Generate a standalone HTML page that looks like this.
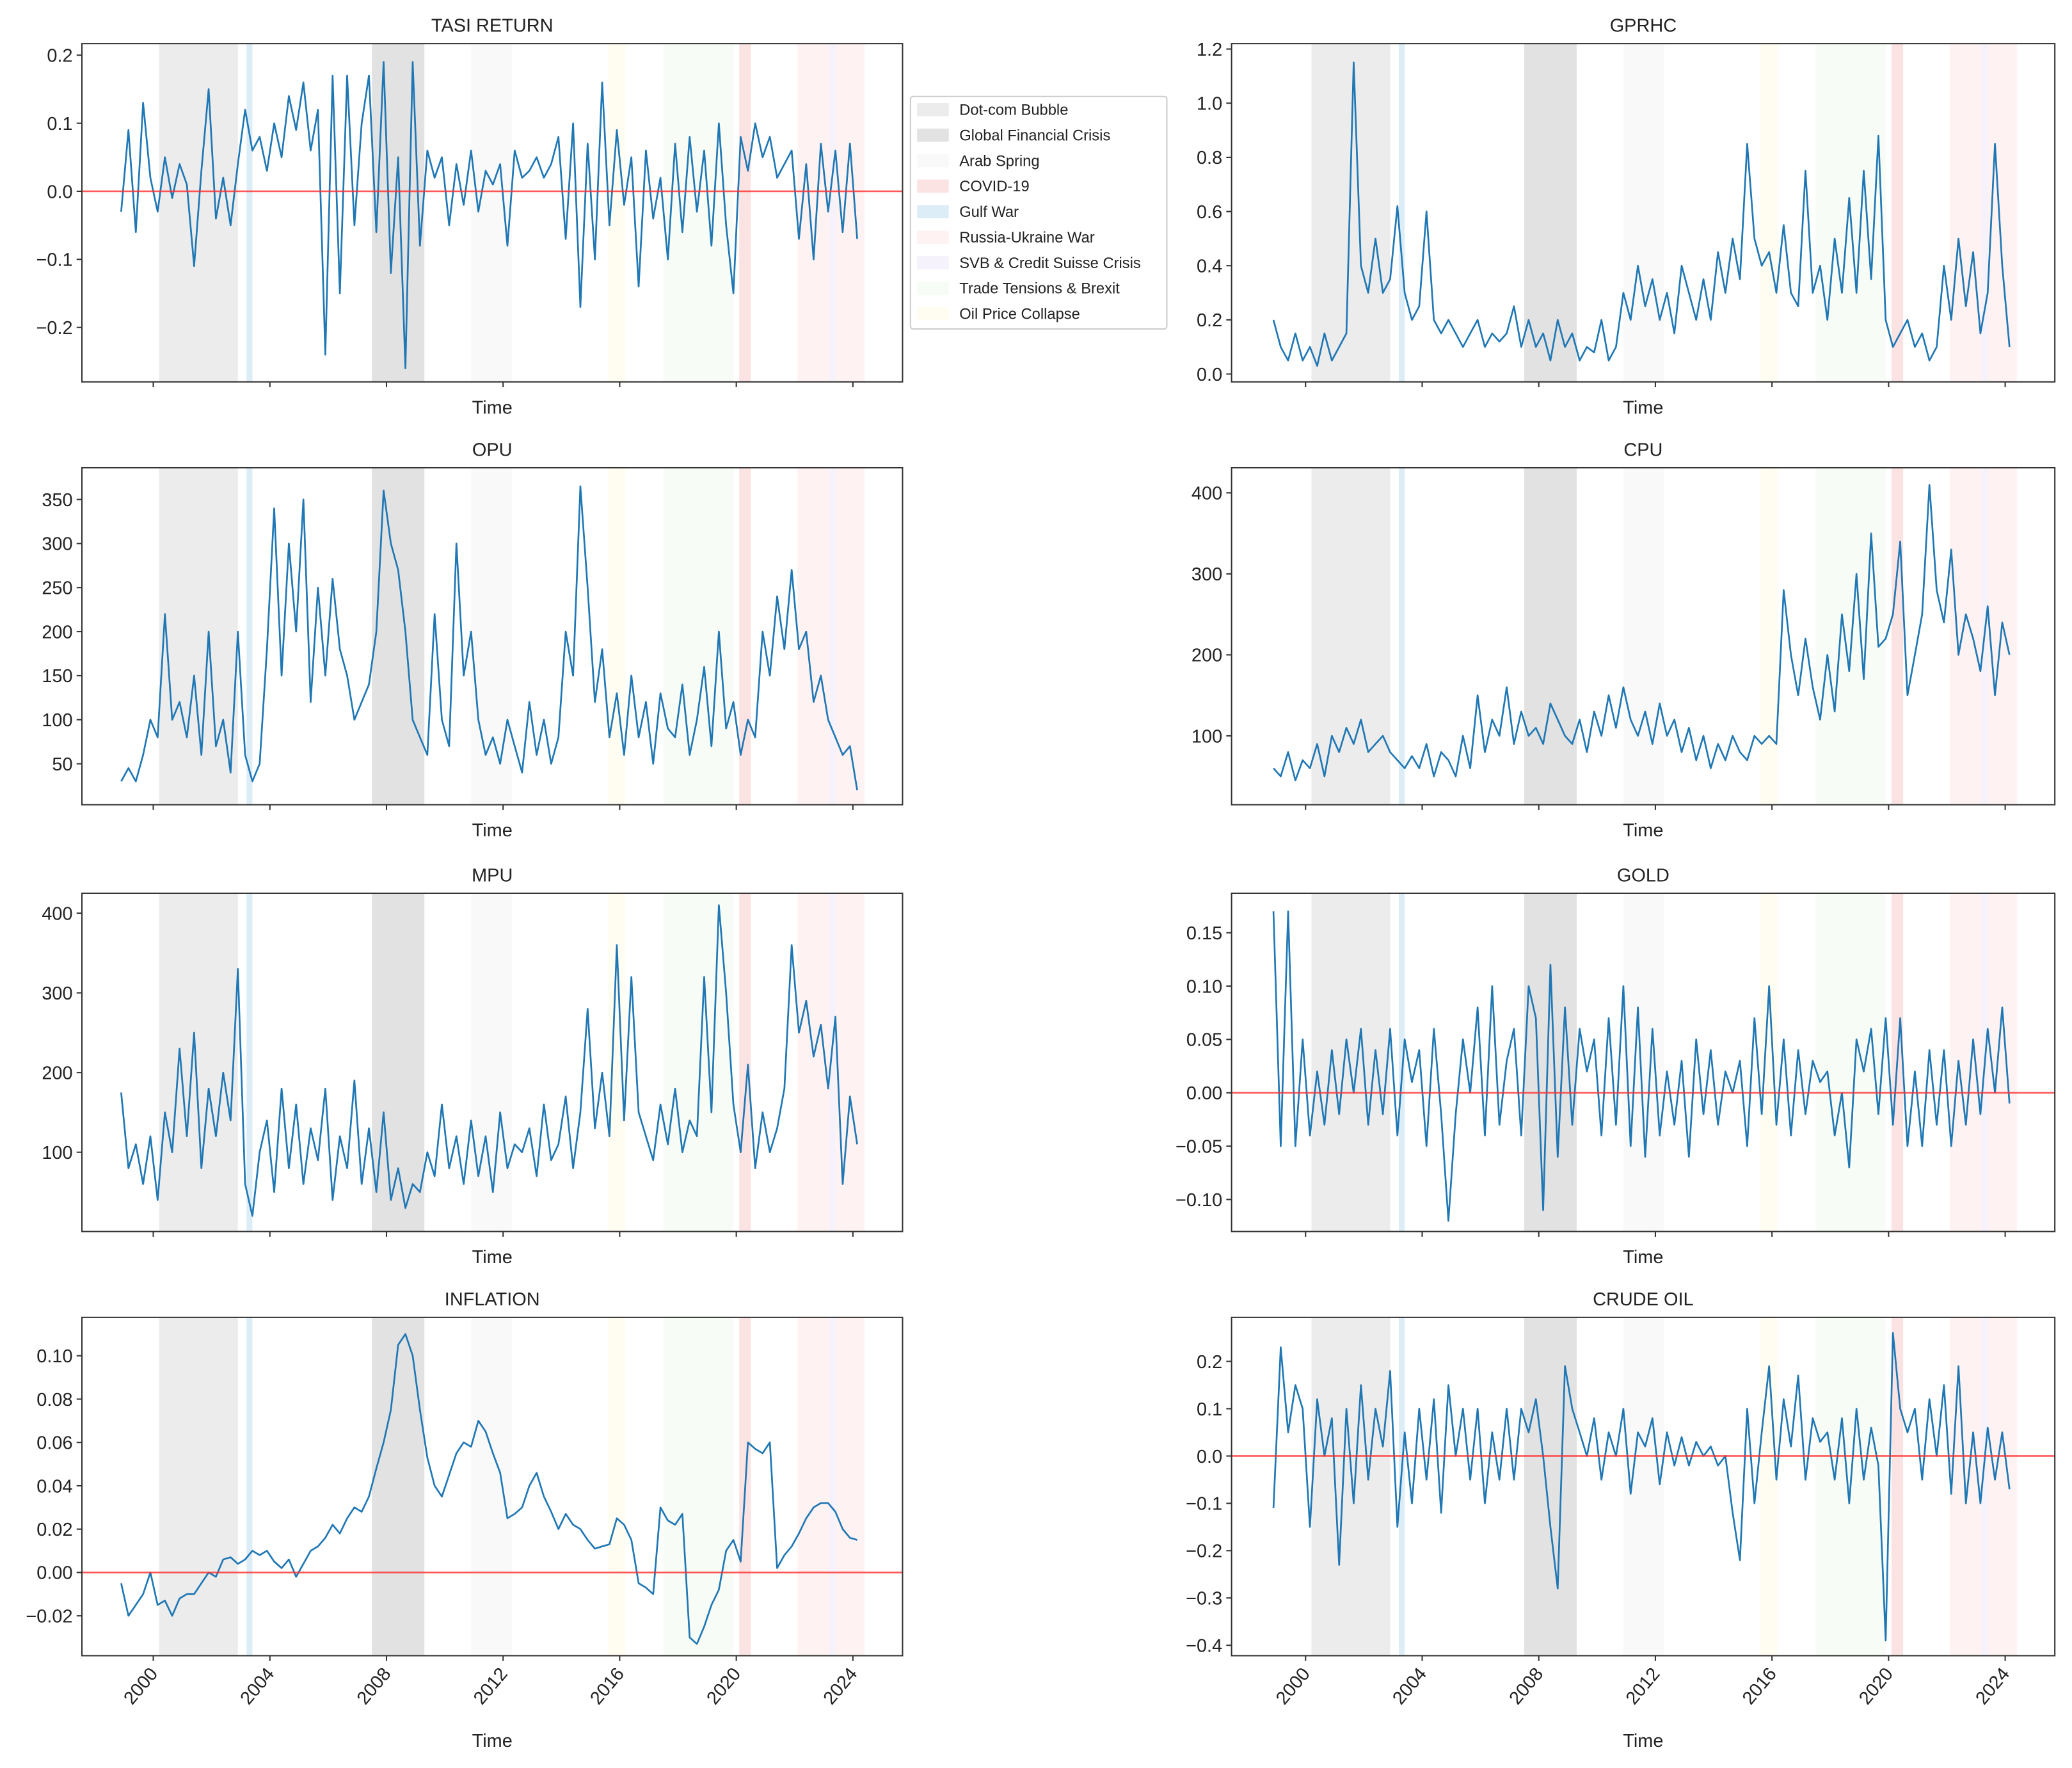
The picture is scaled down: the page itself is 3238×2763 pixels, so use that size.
<!DOCTYPE html>
<html><head><meta charset="utf-8"><title>Uncertainty panels</title>
<style>html,body{margin:0;padding:0;background:#fff}svg{display:block}text{font-family:"Liberation Sans",sans-serif;fill:#222}</style>
</head><body>
<svg id="chart" xmlns="http://www.w3.org/2000/svg" width="3238" height="2763" viewBox="0 0 1568 1338" preserveAspectRatio="none"></svg>
<script>
const startYear = 1998.9, stepYear = 0.25;
const xTicks = [2000, 2004, 2008, 2012, 2016, 2020, 2024];
const tasi = [-0.03,0.09,-0.06,0.13, 0.02,-0.03,0.05,-0.01, 0.04,0.01,-0.11,0.03, 0.15,-0.04,0.02,-0.05, 0.04,0.12,0.06,0.08, 0.03,0.10,0.05,0.14, 0.09,0.16,0.06,0.12, -0.24,0.17,-0.15,0.17, -0.05,0.10,0.17,-0.06, 0.19,-0.12,0.05,-0.26, 0.19,-0.08,0.06,0.02, 0.05,-0.05,0.04,-0.02, 0.06,-0.03,0.03,0.01, 0.04,-0.08,0.06,0.02, 0.03,0.05,0.02,0.04, 0.08,-0.07,0.10,-0.17, 0.07,-0.10,0.16,-0.05, 0.09,-0.02,0.05,-0.14, 0.06,-0.04,0.02,-0.10, 0.07,-0.06,0.08,-0.03, 0.06,-0.08,0.10,-0.05, -0.15,0.08,0.03,0.10, 0.05,0.08,0.02,0.04, 0.06,-0.07,0.04,-0.10, 0.07,-0.03,0.06,-0.06, 0.07,-0.07];
const gprhc = [0.2,0.1,0.05,0.15, 0.05,0.1,0.03,0.15, 0.05,0.1,0.15,1.15, 0.4,0.3,0.5,0.3, 0.35,0.62,0.3,0.2, 0.25,0.6,0.2,0.15, 0.2,0.15,0.1,0.15, 0.2,0.1,0.15,0.12, 0.15,0.25,0.1,0.2, 0.1,0.15,0.05,0.2, 0.1,0.15,0.05,0.1, 0.08,0.2,0.05,0.1, 0.3,0.2,0.4,0.25, 0.35,0.2,0.3,0.15, 0.4,0.3,0.2,0.35, 0.2,0.45,0.3,0.5, 0.35,0.85,0.5,0.4, 0.45,0.3,0.55,0.3, 0.25,0.75,0.3,0.4, 0.2,0.5,0.3,0.65, 0.3,0.75,0.35,0.88, 0.2,0.1,0.15,0.2, 0.1,0.15,0.05,0.1, 0.4,0.2,0.5,0.25, 0.45,0.15,0.3,0.85, 0.4,0.1];
const opu = [30,45,30,60, 100,80,220,100, 120,80,150,60, 200,70,100,40, 200,60,30,50, 180,340,150,300, 200,350,120,250, 150,260,180,150, 100,120,140,200, 360,300,270,200, 100,80,60,220, 100,70,300,150, 200,100,60,80, 50,100,70,40, 120,60,100,50, 80,200,150,365, 250,120,180,80, 130,60,150,80, 120,50,130,90, 80,140,60,100, 160,70,200,90, 120,60,100,80, 200,150,240,180, 270,180,200,120, 150,100,80,60, 70,20];
const cpu = [60,50,80,45, 70,60,90,50, 100,80,110,90, 120,80,90,100, 80,70,60,75, 60,90,50,80, 70,50,100,60, 150,80,120,100, 160,90,130,100, 110,90,140,120, 100,90,120,80, 130,100,150,110, 160,120,100,130, 90,140,100,120, 80,110,70,100, 60,90,70,100, 80,70,100,90, 100,90,280,200, 150,220,160,120, 200,130,250,180, 300,170,350,210, 220,250,340,150, 200,250,410,280, 240,330,200,250, 220,180,260,150, 240,200];
const mpu = [175,80,110,60, 120,40,150,100, 230,120,250,80, 180,120,200,140, 330,60,20,100, 140,50,180,80, 160,60,130,90, 180,40,120,80, 190,60,130,50, 150,40,80,30, 60,50,100,70, 160,80,120,60, 140,70,120,50, 150,80,110,100, 130,70,160,90, 110,170,80,150, 280,130,200,120, 360,140,320,150, 120,90,160,110, 180,100,140,120, 320,150,410,300, 160,100,210,80, 150,100,130,180, 360,250,290,220, 260,180,270,60, 170,110];
const gold = [0.17,-0.05,0.17,-0.05, 0.05,-0.04,0.02,-0.03, 0.04,-0.02,0.05,0.00, 0.06,-0.03,0.04,-0.02, 0.06,-0.04,0.05,0.01, 0.04,-0.05,0.06,-0.02, -0.12,-0.02,0.05,0.00, 0.08,-0.04,0.10,-0.03, 0.03,0.06,-0.04,0.10, 0.07,-0.11,0.12,-0.06, 0.08,-0.03,0.06,0.02, 0.05,-0.04,0.07,-0.03, 0.10,-0.05,0.08,-0.06, 0.06,-0.04,0.02,-0.03, 0.03,-0.06,0.05,-0.02, 0.04,-0.03,0.02,0.00, 0.03,-0.05,0.07,-0.02, 0.10,-0.03,0.05,-0.04, 0.04,-0.02,0.03,0.01, 0.02,-0.04,0.00,-0.07, 0.05,0.02,0.06,-0.02, 0.07,-0.03,0.07,-0.05, 0.02,-0.05,0.04,-0.03, 0.04,-0.05,0.03,-0.03, 0.05,-0.02,0.06,0.00, 0.08,-0.01];
const inflation = [-0.005,-0.02,-0.015,-0.01, 0.0,-0.015,-0.013,-0.02, -0.012,-0.01,-0.01,-0.005, 0.0,-0.002,0.006,0.007, 0.004,0.006,0.01,0.008, 0.01,0.005,0.002,0.006, -0.002,0.004,0.01,0.012, 0.016,0.022,0.018,0.025, 0.03,0.028,0.035,0.048, 0.06,0.075,0.105,0.11, 0.1,0.075,0.053,0.04, 0.035,0.045,0.055,0.06, 0.058,0.07,0.065,0.055, 0.046,0.025,0.027,0.03, 0.04,0.046,0.035,0.028, 0.02,0.027,0.022,0.02, 0.015,0.011,0.012,0.013, 0.025,0.022,0.015,-0.005, -0.007,-0.01,0.03,0.024, 0.022,0.027,-0.03,-0.033, -0.025,-0.015,-0.008,0.01, 0.015,0.005,0.06,0.057, 0.055,0.06,0.002,0.008, 0.012,0.018,0.025,0.03, 0.032,0.032,0.028,0.02, 0.016,0.015];
const crude = [-0.11,0.23,0.05,0.15, 0.1,-0.15,0.12,0.0, 0.08,-0.23,0.1,-0.1, 0.15,-0.05,0.1,0.02, 0.18,-0.15,0.05,-0.1, 0.1,-0.05,0.12,-0.12, 0.15,0.0,0.1,-0.05, 0.1,-0.1,0.05,-0.05, 0.1,-0.05,0.1,0.05, 0.12,0.0,-0.15,-0.28, 0.19,0.1,0.05,0.0, 0.08,-0.05,0.05,0.0, 0.1,-0.08,0.05,0.02, 0.08,-0.06,0.05,-0.02, 0.04,-0.02,0.03,0.0, 0.02,-0.02,0.0,-0.12, -0.22,0.1,-0.1,0.05, 0.19,-0.05,0.12,0.02, 0.17,-0.05,0.08,0.03, 0.05,-0.05,0.08,-0.1, 0.1,-0.05,0.06,-0.02, -0.39,0.26,0.1,0.05, 0.1,-0.05,0.12,0.0, 0.15,-0.08,0.19,-0.1, 0.05,-0.1,0.06,-0.05, 0.05,-0.07];
const tasiTicks = [-0.2,-0.1,0,0.1,0.2];
const gprTicks = [0,0.2,0.4,0.6,0.8,1.0,1.2];
const opuTicks = [50,100,150,200,250,300,350];
const cpuTicks = [100,200,300,400];
const mpuTicks = [100,200,300,400];
const goldTicks = [-0.10,-0.05,0,0.05,0.10,0.15];
const inflTicks = [-0.02,0,0.02,0.04,0.06,0.08,0.10];
const crudeTicks = [-0.4,-0.3,-0.2,-0.1,0,0.1,0.2];
const eventNames = ["Dot-com Bubble","Global Financial Crisis","Arab Spring","COVID-19","Gulf War","Russia-Ukraine War","SVB & Credit Suisse Crisis","Trade Tensions & Brexit","Oil Price Collapse"];
const eventStart = [2000.2,2007.5,2010.9,2020.1,2003.2,2022.1,2023.2,2017.5,2015.6];
const eventEnd = [2002.9,2009.3,2012.3,2020.5,2003.4,2024.4,2023.4,2019.9,2016.2];
const eventColors = ["#ececec","#e2e2e2","#f9f9f9","#fce3e3","#dcedf8","#fef2f2","#f5f2fb","#f8fcf6","#fffdf2"];

const svg = document.getElementById('chart');
const NS = 'http://www.w3.org/2000/svg';
function mk(tag, attrs, parent){const e=document.createElementNS(NS,tag);for(const k in attrs)e.setAttribute(k,attrs[k]);(parent||svg).appendChild(e);return e;}
function fmt(v,d){const s=Math.abs(v).toFixed(d);return (v<0?'\u2212':'')+s;}

const panels = [
 {name:'tasi-return',title:'TASI RETURN',data:tasi,ticks:tasiTicks,dec:1,lo:-0.28,hi:0.217,x0:62,x1:683,y0:33,y1:289,x2000:116,zero:true,bottom:false},
 {name:'gprhc',title:'GPRHC',data:gprhc,ticks:gprTicks,dec:1,lo:-0.029,hi:1.22,x0:932,x1:1555,y0:33,y1:289,x2000:988,zero:false,bottom:false},
 {name:'opu',title:'OPU',data:opu,ticks:opuTicks,dec:0,lo:3.5,hi:386,x0:62,x1:683,y0:354,y1:609,x2000:116,zero:false,bottom:false},
 {name:'cpu',title:'CPU',data:cpu,ticks:cpuTicks,dec:0,lo:15,hi:431,x0:932,x1:1555,y0:354,y1:609,x2000:988,zero:false,bottom:false},
 {name:'mpu',title:'MPU',data:mpu,ticks:mpuTicks,dec:0,lo:0.5,hi:425,x0:62,x1:683,y0:676,y1:932,x2000:116,zero:false,bottom:false},
 {name:'gold',title:'GOLD',data:gold,ticks:goldTicks,dec:2,lo:-0.13,hi:0.187,x0:932,x1:1555,y0:676,y1:932,x2000:988,zero:true,bottom:false},
 {name:'inflation',title:'INFLATION',data:inflation,ticks:inflTicks,dec:2,lo:-0.0384,hi:0.1177,x0:62,x1:683,y0:997,y1:1253,x2000:116,zero:true,bottom:true},
 {name:'crude-oil',title:'CRUDE OIL',data:crude,ticks:crudeTicks,dec:1,lo:-0.422,hi:0.293,x0:932,x1:1555,y0:997,y1:1253,x2000:988,zero:true,bottom:true}
];

panels.forEach(p=>{
  const yr = 22.06;
  const X = t => p.x2000 + (t-2000)*yr;
  const Y = v => p.y1 - (v-p.lo)/(p.hi-p.lo)*(p.y1-p.y0);
  const g = mk('g',{});
  
  
  const clip = mk('clipPath',{id:'c-'+p.name},g);
  mk('rect',{x:p.x0,y:p.y0,width:p.x1-p.x0,height:p.y1-p.y0},clip);
  eventStart.forEach((s,i)=>{
    const r = mk('rect',{x:X(s),y:p.y0,width:X(eventEnd[i])-X(s),height:p.y1-p.y0,fill:eventColors[i]},g);
    
    
  });
  const pts = p.data.map((v,i)=>X(startYear+i*stepYear).toFixed(1)+','+Y(v).toFixed(1)).join(' ');
  const line = mk('polyline',{points:pts,fill:'none',stroke:'#1f77b4','stroke-width':1.3,'stroke-linejoin':'round','clip-path':'url(#c-'+p.name+')'},g);
  
  
  if(p.zero){
    const z = mk('line',{x1:p.x0,x2:p.x1,y1:Y(0),y2:Y(0),stroke:'#ff3030','stroke-width':1.3,opacity:0.8},g);
    
    
  }
  const frame = mk('rect',{x:p.x0,y:p.y0,width:p.x1-p.x0,height:p.y1-p.y0,fill:'none',stroke:'#333','stroke-width':1},g);
  
  
  p.ticks.forEach(v=>{
    const y = Y(v);
    mk('line',{x1:p.x0-4,x2:p.x0,y1:y,y2:y,stroke:'#333','stroke-width':1},g);
    const t = mk('text',{x:p.x0-7,y:y+5,'text-anchor':'end','font-size':14},g);
    t.textContent = fmt(v,p.dec);
    
    
  });
  xTicks.forEach(yv=>{
    const x = X(yv);
    mk('line',{x1:x,x2:x,y1:p.y1,y2:p.y1+4,stroke:'#333','stroke-width':1},g);
    if(p.bottom){
      const t = mk('text',{x:x+4,y:p.y1+14,'text-anchor':'end','font-size':14,transform:'rotate(-50 '+(x+4)+' '+(p.y1+14)+')'},g);
      t.textContent = String(yv);
      
      
    }
  });
  const ti = mk('text',{x:(p.x0+p.x1)/2,y:p.y0-9,'text-anchor':'middle','font-size':14},g);
  ti.textContent = p.title;
  
  
  const xl = mk('text',{x:(p.x0+p.x1)/2,y:p.bottom?1322:p.y1+24,'text-anchor':'middle','font-size':14},g);
  xl.textContent = 'Time';
  
  
});

const lg = mk('g',{});


mk('rect',{x:689,y:73,width:194,height:176,fill:'#fff',stroke:'#ccc','stroke-width':1,rx:2},lg);
eventNames.forEach((n,i)=>{
  const y = 83 + i*19.3;
  const pa = mk('rect',{x:694,y:y-5,width:24,height:10,fill:eventColors[i]},lg);
  
  
  const t = mk('text',{x:726,y:y+4,'font-size':11.5},lg);
  t.textContent = n;
  
  
});
</script>
</body></html>
